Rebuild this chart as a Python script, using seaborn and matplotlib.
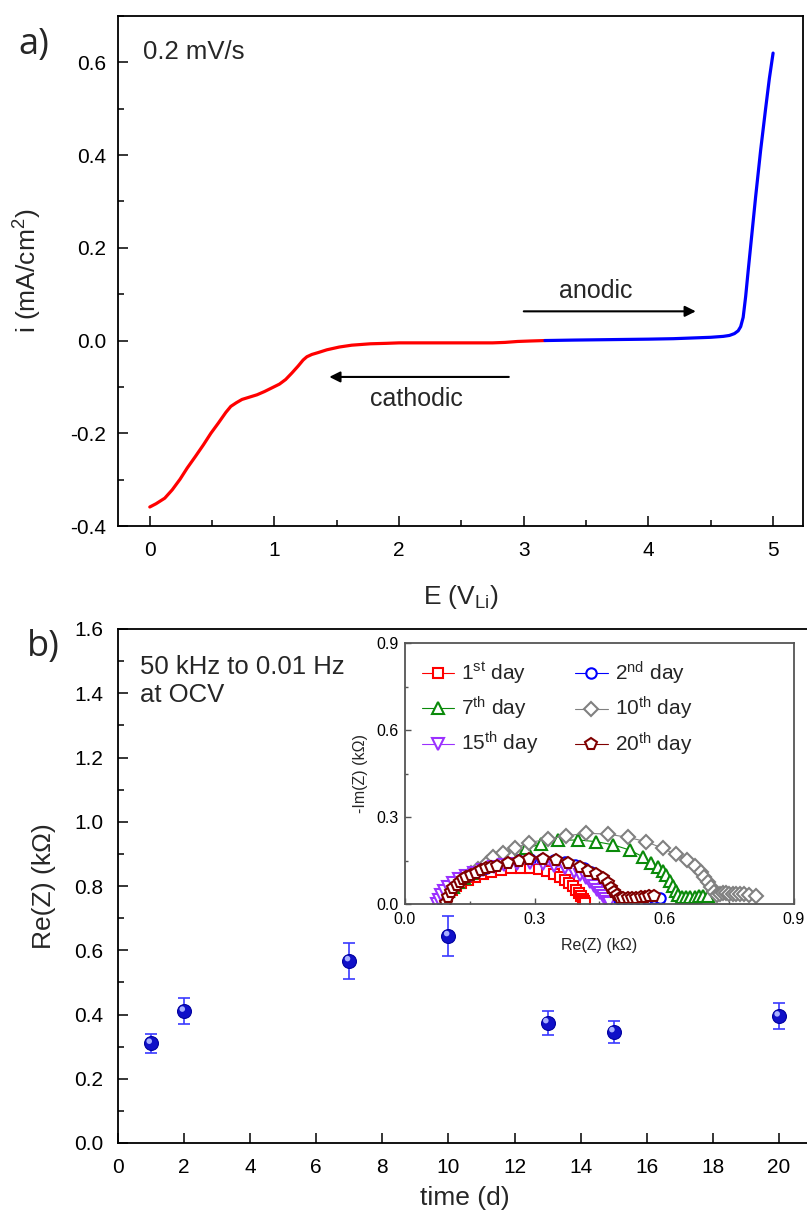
import matplotlib
matplotlib.use("Agg")
import matplotlib.pyplot as plt
import matplotlib.transforms as mtransforms
from matplotlib.ticker import MultipleLocator, FixedLocator, FixedFormatter
import seaborn as sns

# ---------------- panel a: linear sweep voltammetry ----------------
E_cathodic = [0.0, 0.05, 0.12, 0.18, 0.243, 0.30, 0.366, 0.43, 0.49, 0.55, 0.61, 0.65, 0.695, 0.74,
              0.80, 0.86, 0.92, 0.98, 1.04, 1.09, 1.14, 1.19, 1.23, 1.26, 1.30, 1.35, 1.42, 1.52,
              1.62, 1.77, 1.9, 2.0, 2.2, 2.4, 2.6, 2.75, 2.85, 2.95, 3.05, 3.17]
i_cathodic = [-0.359, -0.352, -0.340, -0.322, -0.299, -0.275, -0.25, -0.225, -0.20, -0.178, -0.155,
              -0.142, -0.134, -0.127, -0.122, -0.117, -0.11, -0.102, -0.094, -0.084, -0.07, -0.055,
              -0.042, -0.035, -0.03, -0.026, -0.02, -0.014, -0.01, -0.007, -0.006, -0.005, -0.005,
              -0.005, -0.005, -0.005, -0.004, -0.002, -0.001, 0.0]
E_anodic = [3.17, 3.4, 3.7, 4.0, 4.2, 4.4, 4.5, 4.6, 4.65, 4.69, 4.72, 4.74, 4.76, 4.78, 4.8, 4.83,
            4.86, 4.9, 4.94, 4.97, 5.0]
i_anodic = [0.0, 0.001, 0.002, 0.003, 0.004, 0.006, 0.007, 0.009, 0.011, 0.015, 0.021, 0.03, 0.05,
            0.095, 0.15, 0.23, 0.31, 0.41, 0.5, 0.565, 0.62]
a_xticks = [0, 1, 2, 3, 4, 5]
a_xticklabels = ["0", "1", "2", "3", "4", "5"]
a_yticks = [-0.4, -0.2, 0.0, 0.2, 0.4, 0.6]
a_yticklabels = ["-0.4", "-0.2", "0.0", "0.2", "0.4", "0.6"]

# ---------------- panel b: Re(Z) vs time ----------------
days = [1, 2, 7, 10, 13, 15, 20]
reZ = [0.31, 0.41, 0.567, 0.645, 0.374, 0.346, 0.395]
reZ_err = [0.03, 0.04, 0.056, 0.063, 0.037, 0.035, 0.04]
b_xticks = [0, 2, 4, 6, 8, 10, 12, 14, 16, 18, 20]
b_xticklabels = ["0", "2", "4", "6", "8", "10", "12", "14", "16", "18", "20"]
b_yticks = [0.0, 0.2, 0.4, 0.6, 0.8, 1.0, 1.2, 1.4, 1.6]
b_yticklabels = ["0.0", "0.2", "0.4", "0.6", "0.8", "1.0", "1.2", "1.4", "1.6"]

# ---------------- inset: Nyquist plots ----------------
re_d1 = [0.085, 0.088, 0.093, 0.10, 0.108, 0.118, 0.13, 0.145, 0.162, 0.18, 0.20, 0.222, 0.245, 0.268,
         0.29, 0.31, 0.328, 0.344, 0.358, 0.37, 0.38, 0.389, 0.396, 0.402, 0.407, 0.411, 0.414, 0.417]
im_d1 = [0.0, 0.012, 0.025, 0.038, 0.05, 0.062, 0.073, 0.084, 0.094, 0.103, 0.111, 0.118, 0.123, 0.125,
         0.124, 0.12, 0.113, 0.104, 0.094, 0.083, 0.072, 0.061, 0.05, 0.039, 0.028, 0.018, 0.009, 0.002]
re_d2 = [0.08, 0.083, 0.088, 0.095, 0.105, 0.117, 0.13, 0.147, 0.165, 0.187, 0.21, 0.235, 0.262, 0.29,
         0.318, 0.345, 0.37, 0.393, 0.413, 0.43, 0.444, 0.456, 0.465, 0.473, 0.48, 0.486, 0.492, 0.50,
         0.515, 0.53, 0.545, 0.56, 0.575, 0.59]
im_d2 = [0.0, 0.015, 0.03, 0.045, 0.06, 0.075, 0.088, 0.10, 0.112, 0.124, 0.135, 0.144, 0.151, 0.155,
         0.156, 0.153, 0.146, 0.136, 0.124, 0.111, 0.097, 0.083, 0.068, 0.054, 0.041, 0.03, 0.02, 0.014,
         0.013, 0.014, 0.015, 0.017, 0.019, 0.021]
re_d7 = [0.082, 0.086, 0.092, 0.10, 0.11, 0.122, 0.136, 0.152, 0.17, 0.19, 0.212, 0.246, 0.281, 0.315,
         0.354, 0.40, 0.442, 0.482, 0.52, 0.55, 0.569, 0.585, 0.596, 0.605, 0.613, 0.62, 0.626, 0.632,
         0.64, 0.65, 0.66, 0.67, 0.68, 0.69, 0.70]
im_d7 = [0.0, 0.015, 0.03, 0.045, 0.06, 0.075, 0.09, 0.106, 0.122, 0.139, 0.158, 0.175, 0.192, 0.207,
         0.219, 0.221, 0.215, 0.204, 0.186, 0.163, 0.143, 0.129, 0.115, 0.1, 0.081, 0.062, 0.045, 0.03,
         0.024, 0.024, 0.025, 0.025, 0.026, 0.026, 0.027]
re_d10 = [0.082, 0.086, 0.092, 0.10, 0.11, 0.122, 0.136, 0.152, 0.17, 0.19, 0.204, 0.227, 0.254, 0.288,
          0.331, 0.373, 0.419, 0.469, 0.515, 0.558, 0.596, 0.627, 0.652, 0.672, 0.685, 0.692, 0.70,
          0.708, 0.715, 0.723, 0.728, 0.735, 0.742, 0.75, 0.758, 0.766, 0.775, 0.785, 0.797, 0.812]
im_d10 = [0.0, 0.015, 0.03, 0.045, 0.06, 0.075, 0.09, 0.106, 0.122, 0.142, 0.161, 0.177, 0.192, 0.212,
          0.224, 0.235, 0.244, 0.241, 0.23, 0.215, 0.192, 0.171, 0.152, 0.131, 0.112, 0.094, 0.077,
          0.06, 0.043, 0.032, 0.036, 0.038, 0.037, 0.036, 0.036, 0.035, 0.035, 0.034, 0.032, 0.028]
re_d15 = [0.075, 0.078, 0.083, 0.09, 0.10, 0.112, 0.125, 0.14, 0.16, 0.18, 0.205, 0.23, 0.26, 0.29,
          0.32, 0.345, 0.37, 0.39, 0.405, 0.418, 0.428, 0.437, 0.445, 0.452, 0.458, 0.463, 0.468, 0.472]
im_d15 = [0.0, 0.015, 0.03, 0.045, 0.06, 0.073, 0.085, 0.097, 0.108, 0.118, 0.127, 0.134, 0.139, 0.14,
          0.138, 0.132, 0.123, 0.112, 0.1, 0.088, 0.075, 0.062, 0.049, 0.037, 0.026, 0.016, 0.008, 0.003]
re_d20 = [0.095, 0.10, 0.106, 0.112, 0.12, 0.127, 0.135, 0.142, 0.153, 0.165, 0.176, 0.188, 0.20, 0.212,
          0.238, 0.264, 0.288, 0.319, 0.35, 0.378, 0.404, 0.423, 0.442, 0.458, 0.469, 0.477, 0.484,
          0.49, 0.497, 0.505, 0.515, 0.525, 0.535, 0.545, 0.555, 0.565, 0.575]
im_d20 = [0.002, 0.025, 0.04, 0.054, 0.066, 0.077, 0.086, 0.094, 0.101, 0.108, 0.116, 0.123, 0.129,
          0.132, 0.142, 0.15, 0.155, 0.156, 0.152, 0.142, 0.128, 0.115, 0.104, 0.089, 0.071, 0.056,
          0.042, 0.03, 0.022, 0.02, 0.02, 0.021, 0.022, 0.023, 0.025, 0.027, 0.028]
inset_series = [
    (r"1$^{\rm st}$ day", re_d1, im_d1, "#ff0000", "s", 7.0),
    (r"2$^{\rm nd}$ day", re_d2, im_d2, "#0000ff", "o", 7.5),
    (r"7$^{\rm th}$ day", re_d7, im_d7, "#0a8a0a", "^", 8.5),
    (r"10$^{\rm th}$ day", re_d10, im_d10, "#808080", "D", 7.0),
    (r"15$^{\rm th}$ day", re_d15, im_d15, "#9b30ff", "v", 8.5),
    (r"20$^{\rm th}$ day", re_d20, im_d20, "#800000", "p", 8.5),
]
inset_ticks = [0.0, 0.3, 0.6, 0.9]
inset_ticklabels = ["0.0", "0.3", "0.6", "0.9"]

# ---------------- style ----------------
sns.set_theme(style="ticks")
plt.rcParams["font.family"] = ["Liberation Sans", "DejaVu Sans"]
plt.rcParams["mathtext.fontset"] = "custom"
plt.rcParams["mathtext.rm"] = "Liberation Sans"
plt.rcParams["mathtext.it"] = "Liberation Sans:italic"
plt.rcParams["mathtext.bf"] = "Liberation Sans:bold"
plt.rcParams["axes.unicode_minus"] = False

fig = plt.figure(figsize=(8.07, 12.21), dpi=100)
W, H = 807.0, 1221.0

def pos(l, t, r, b):
    return [l / W, 1 - b / H, (r - l) / W, (b - t) / H]

TICK_FS = 15
LABEL_FS = 19

def style_axes(ax, lw=1.3, color="black"):
    for s in ax.spines.values():
        s.set_linewidth(lw)
        s.set_color(color)
        s.set_visible(True)
    ax.tick_params(which="both", direction="in", top=False, right=False, colors=color,
                   labelcolor="black")
    ax.tick_params(which="major", length=7.5, width=1.1)
    ax.tick_params(which="minor", length=4, width=1.1)
    ax.set_facecolor("white")

# ---------- panel a ----------
ax1 = fig.add_axes(pos(118, 16, 803, 526))
sns.lineplot(x=E_cathodic, y=i_cathodic, color="#ff0000", lw=2.3, sort=False, estimator=None, ax=ax1)
sns.lineplot(x=E_anodic, y=i_anodic, color="#0000ff", lw=2.3, sort=False, estimator=None, ax=ax1)
ax1.set_xlim(-0.255, 5.24)
ax1.set_ylim(-0.4, 0.7)
style_axes(ax1)
ax1.xaxis.set_major_locator(FixedLocator(a_xticks))
ax1.xaxis.set_major_formatter(FixedFormatter(a_xticklabels))
ax1.yaxis.set_major_locator(FixedLocator(a_yticks))
ax1.yaxis.set_major_formatter(FixedFormatter(a_yticklabels))
ax1.xaxis.set_minor_locator(MultipleLocator(0.5))
ax1.yaxis.set_minor_locator(MultipleLocator(0.1))
ax1.tick_params(axis="x", labelsize=TICK_FS, pad=11)
ax1.tick_params(axis="y", labelsize=TICK_FS, pad=8.5)
ax1.set_xlabel(r"E (V$_{\rm Li}$)", fontsize=LABEL_FS)
ax1.set_ylabel(r"i (mA/cm$^{2}$)", fontsize=LABEL_FS)
ax1.xaxis.set_label_coords(0.5, -0.112)
ax1.yaxis.set_label_coords(-0.108, 0.5)

ax1.annotate("", xy=(4.38, 0.063), xytext=(3.0, 0.063),
             arrowprops=dict(arrowstyle="-|>", lw=1.5, color="black", mutation_scale=16,
                             shrinkA=0, shrinkB=0))
ax1.annotate("", xy=(1.44, -0.0785), xytext=(2.88, -0.0785),
             arrowprops=dict(arrowstyle="-|>", lw=1.5, color="black", mutation_scale=16,
                             shrinkA=0, shrinkB=0))
ax1.text(3.58, 0.106, "anodic", fontsize=18, ha="center", va="center")
ax1.text(2.14, -0.126, "cathodic", fontsize=18, ha="center", va="center")
ax1.text(0.036, 0.953, "0.2 mV/s", fontsize=18.5, ha="left", va="top", transform=ax1.transAxes)

# ---------- panel b ----------
ax2 = fig.add_axes(pos(118, 629, 812, 1143))
ax2.errorbar(days, reZ, yerr=reZ_err, fmt="none", ecolor="#3a3aff", elinewidth=1.2,
             capsize=4, capthick=1.2, zorder=2)
sns.scatterplot(x=days, y=reZ, s=100, color="#1010c8", edgecolor="#0000a0", linewidth=0.8,
                zorder=3, ax=ax2, legend=False)
hl = mtransforms.offset_copy(ax2.transData, fig=fig, x=-1.3, y=1.6, units="points")
ax2.scatter(days, reZ, s=16, color="#a8b0ff", edgecolor="none", zorder=4, transform=hl)
ax2.set_xlim(0, 21)
ax2.set_ylim(0, 1.6)
style_axes(ax2)
ax2.xaxis.set_major_locator(FixedLocator(b_xticks))
ax2.xaxis.set_major_formatter(FixedFormatter(b_xticklabels))
ax2.yaxis.set_major_locator(FixedLocator(b_yticks))
ax2.yaxis.set_major_formatter(FixedFormatter(b_yticklabels))
ax2.yaxis.set_minor_locator(MultipleLocator(0.1))
ax2.tick_params(axis="x", labelsize=TICK_FS, pad=11)
ax2.tick_params(axis="y", labelsize=TICK_FS, pad=10.5)
ax2.set_xlabel("time (d)", fontsize=LABEL_FS)
ax2.set_ylabel("Re(Z) (kΩ)", fontsize=LABEL_FS)
ax2.xaxis.set_label_coords(0.5, -0.083)
ax2.yaxis.set_label_coords(-0.09, 0.5)
ax2.text(0.032, 0.95, "50 kHz to 0.01 Hz\nat OCV", fontsize=18.5, ha="left", va="top",
         linespacing=1.2, transform=ax2.transAxes)

# ---------- inset ----------
axin = fig.add_axes(pos(405, 643, 794, 904))
for label, xr, yi, col, mk, ms in inset_series:
    sns.lineplot(x=xr, y=yi, color=col, lw=0.8, marker=mk, markersize=ms,
                 markerfacecolor="white", markeredgecolor=col, markeredgewidth=1.5,
                 sort=False, estimator=None, ax=axin, label=label)
axin.set_xlim(0, 0.9)
axin.set_ylim(0, 0.9)
style_axes(axin, lw=1.3, color="#555555")
axin.xaxis.set_major_locator(FixedLocator(inset_ticks))
axin.xaxis.set_major_formatter(FixedFormatter(inset_ticklabels))
axin.yaxis.set_major_locator(FixedLocator(inset_ticks))
axin.yaxis.set_major_formatter(FixedFormatter(inset_ticklabels))
axin.xaxis.set_minor_locator(MultipleLocator(0.15))
axin.yaxis.set_minor_locator(MultipleLocator(0.15))
axin.tick_params(which="major", length=4, width=1.0)
axin.tick_params(which="minor", length=2.5, width=1.0)
axin.tick_params(axis="x", labelsize=11.5, pad=6)
axin.tick_params(axis="y", labelsize=11.5, pad=4.5)
axin.set_xlabel("Re(Z) (kΩ)", fontsize=11.5)
axin.set_ylabel("-Im(Z) (kΩ)", fontsize=11.5)
axin.xaxis.set_label_coords(0.5, -0.13)
axin.yaxis.set_label_coords(-0.095, 0.5)
h, l = axin.get_legend_handles_labels()
order = [0, 2, 4, 1, 3, 5]  # row-wise reading: 1st/2nd, 7th/10th, 15th/20th
axin.legend([h[k] for k in order], [l[k] for k in order], ncol=2, loc="upper left",
            bbox_to_anchor=(0.0, 1.0), frameon=False,
            fontsize=15, handlelength=1.55, handletextpad=0.35, columnspacing=1.75,
            labelspacing=0.4, borderaxespad=0.4, borderpad=0.4, numpoints=1)

# panel letters
fig.text(18 / W, 1 - 45 / H, "a)", fontsize=26, family=["Open Sans", "DejaVu Sans"],
         ha="left", va="center")
fig.text(27 / W, 1 - 647 / H, "b)", fontsize=26, family=["Open Sans", "DejaVu Sans"],
         ha="left", va="center")

fig.savefig("out.png", dpi=100)
